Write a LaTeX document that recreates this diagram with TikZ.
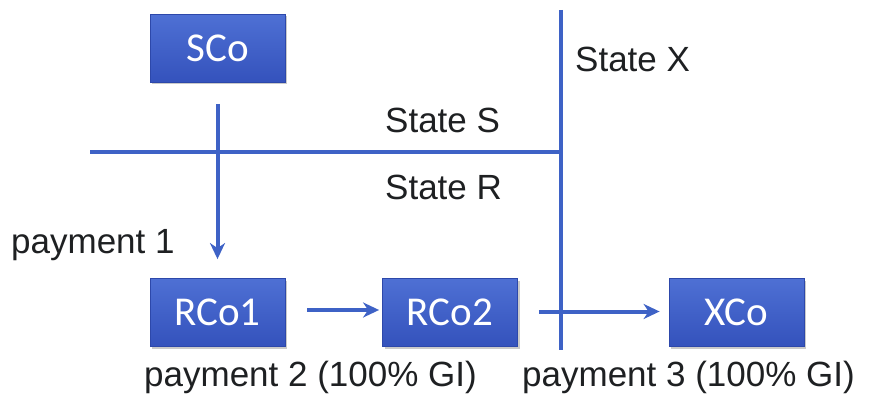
\documentclass[tikz,border=0pt]{standalone}
\usepackage{fontspec}
\setmainfont{Liberation Sans}
\newfontfamily\boxfont{Carlito}
\usetikzlibrary{arrows.meta,shadows}
\definecolor{lineblue}{RGB}{62,98,198}
\definecolor{boxtop}{RGB}{78,112,212}
\definecolor{boxbot}{RGB}{52,82,188}
\definecolor{boxedge}{RGB}{45,72,170}
\definecolor{labeltext}{RGB}{30,32,34}
\begin{document}
\begin{tikzpicture}[x=1pt,y=-1pt,
  company/.style={minimum width=135pt,minimum height=68pt,inner sep=0pt,
    top color=boxtop,bottom color=boxbot,draw=boxedge,line width=0.8pt,
    drop shadow={shadow xshift=2pt,shadow yshift=-2pt,opacity=0.35,fill=black!60},
    text=white,font=\boxfont\fontsize{41}{46}\selectfont},
  divider/.style={draw=lineblue,line width=4pt},
  flow/.style={draw=lineblue,line width=4pt,-{Stealth[length=16pt,width=15pt,inset=5pt]}},
  lbl/.style={inner sep=0pt,text=labeltext,font=\fontsize{35}{40}\selectfont}]
  \useasboundingbox (0,0) rectangle (875,398);

  % companies
  \node[company] (sco)  at (217.5,48.5)  {SCo};
  \node[company] (rco1) at (217.5,312.5) {RCo1};
  \node[company] (rco2) at (450,312.5)   {RCo2};
  \node[company] (xco)  at (736.5,312.5) {XCo};

  % state borders
  \coordinate (sw) at (90,152);
  \coordinate (sx) at (561,152);
  \coordinate (xtop) at (561,10);
  \coordinate (xbot) at (561,350);
  \draw[divider] (sw) -- (sx);
  \draw[divider,line cap=butt] (xtop) -- (xbot);

  % payments
  \draw[flow,shorten <=21pt,shorten >=19pt] (sco.south) -- (rco1.north);
  \draw[flow,shorten <=22pt,shorten >=3pt] ([yshift=2.5pt]rco1.east) -- ([yshift=2.5pt]rco2.west);
  \draw[flow,shorten <=21pt,shorten >=9pt] ([yshift=1pt]rco2.east) -- ([yshift=1pt]xco.west);

  % state names
  \node[lbl,anchor=base west] (stx) at (575,72)  {State X};
  \node[lbl,anchor=base west] (sts) at (385,133) {State S};
  \node[lbl,anchor=base west] (str) at (385,200) {State R};

  % payment labels
  \node[lbl,anchor=base west] (p1) at (11,253)  {payment 1};
  \node[lbl,anchor=base west] (p2) at (144,386) {payment 2 (100\% GI)};
  \node[lbl,anchor=base west] (p3) at (522,386) {payment 3 (100\% GI)};
\end{tikzpicture}
\end{document}
